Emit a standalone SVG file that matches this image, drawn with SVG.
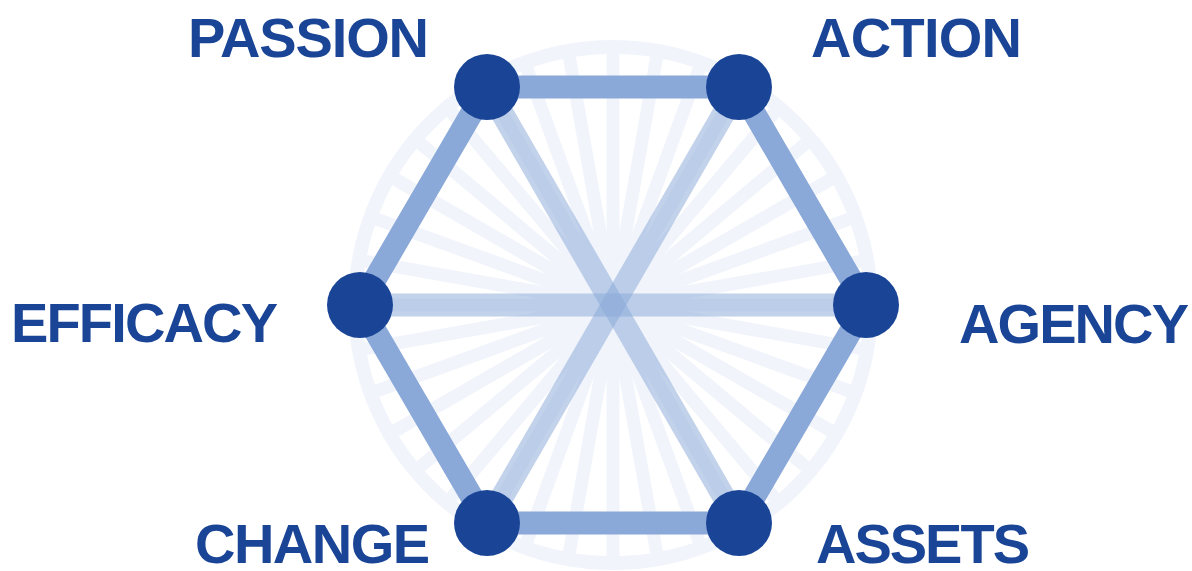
<svg xmlns="http://www.w3.org/2000/svg" width="1192" height="571" viewBox="0 0 1192 571">
<style>
.bg{fill:none;stroke:#f1f5fb}
.spk{stroke:#f1f5fb;stroke-width:13}
.edge{stroke:#8aa8d8;stroke-width:23;fill:none}
.diag{stroke:#8aa8d8;stroke-width:23;stroke-opacity:0.52}
.node{fill:#1a4597}
.lbl{font-family:"Liberation Sans",Arial,sans-serif;font-weight:bold;font-size:56px;fill:#1a4597}
</style>
<rect width="1192" height="571" fill="#ffffff"/>
<g id="background">
<circle class="bg" cx="613" cy="305" r="258" stroke-width="14"/>
<g class="spk">
<line x1="613" y1="305" x2="871" y2="305"/>
<line x1="613" y1="305" x2="867.1" y2="349.8"/>
<line x1="613" y1="305" x2="855.4" y2="393.2"/>
<line x1="613" y1="305" x2="836.4" y2="434"/>
<line x1="613" y1="305" x2="810.6" y2="470.8"/>
<line x1="613" y1="305" x2="778.8" y2="502.6"/>
<line x1="613" y1="305" x2="742" y2="528.4"/>
<line x1="613" y1="305" x2="701.2" y2="547.4"/>
<line x1="613" y1="305" x2="657.8" y2="559.1"/>
<line x1="613" y1="305" x2="613" y2="563"/>
<line x1="613" y1="305" x2="568.2" y2="559.1"/>
<line x1="613" y1="305" x2="524.8" y2="547.4"/>
<line x1="613" y1="305" x2="484" y2="528.4"/>
<line x1="613" y1="305" x2="447.2" y2="502.6"/>
<line x1="613" y1="305" x2="415.4" y2="470.8"/>
<line x1="613" y1="305" x2="389.6" y2="434"/>
<line x1="613" y1="305" x2="370.6" y2="393.2"/>
<line x1="613" y1="305" x2="358.9" y2="349.8"/>
<line x1="613" y1="305" x2="355" y2="305"/>
<line x1="613" y1="305" x2="358.9" y2="260.2"/>
<line x1="613" y1="305" x2="370.6" y2="216.8"/>
<line x1="613" y1="305" x2="389.6" y2="176"/>
<line x1="613" y1="305" x2="415.4" y2="139.2"/>
<line x1="613" y1="305" x2="447.2" y2="107.4"/>
<line x1="613" y1="305" x2="484" y2="81.6"/>
<line x1="613" y1="305" x2="524.8" y2="62.6"/>
<line x1="613" y1="305" x2="568.2" y2="50.9"/>
<line x1="613" y1="305" x2="613" y2="47"/>
<line x1="613" y1="305" x2="657.8" y2="50.9"/>
<line x1="613" y1="305" x2="701.2" y2="62.6"/>
<line x1="613" y1="305" x2="742" y2="81.6"/>
<line x1="613" y1="305" x2="778.8" y2="107.4"/>
<line x1="613" y1="305" x2="810.6" y2="139.2"/>
<line x1="613" y1="305" x2="836.4" y2="176"/>
<line x1="613" y1="305" x2="855.4" y2="216.8"/>
<line x1="613" y1="305" x2="867.1" y2="260.2"/>
</g>
</g>
<g id="connectors">
<polygon class="edge" points="487,87 739,87 866,305 739,523 487,523 360,305"/>
<line class="diag" x1="487" y1="87" x2="739" y2="523"/>
<line class="diag" x1="739" y1="87" x2="487" y2="523"/>
<line class="diag" x1="360" y1="305" x2="866" y2="305"/>
</g>
<g id="node-passion">
<circle class="node" cx="487" cy="87" r="33"/>
<text class="lbl" x="188" y="57" textLength="241" lengthAdjust="spacing">PASSION</text>
</g>
<g id="node-action">
<circle class="node" cx="739" cy="87" r="33"/>
<text class="lbl" x="811" y="57" textLength="211" lengthAdjust="spacing">ACTION</text>
</g>
<g id="node-efficacy">
<circle class="node" cx="360" cy="305" r="33"/>
<text class="lbl" x="11" y="342" textLength="267" lengthAdjust="spacing">EFFICACY</text>
</g>
<g id="node-agency">
<circle class="node" cx="866" cy="305" r="33"/>
<text class="lbl" x="959" y="343" textLength="230" lengthAdjust="spacing">AGENCY</text>
</g>
<g id="node-change">
<circle class="node" cx="487" cy="523" r="33"/>
<text class="lbl" x="195" y="563" textLength="235" lengthAdjust="spacing">CHANGE</text>
</g>
<g id="node-assets">
<circle class="node" cx="739" cy="523" r="33"/>
<text class="lbl" x="816" y="563" textLength="214" lengthAdjust="spacing">ASSETS</text>
</g>
</svg>
